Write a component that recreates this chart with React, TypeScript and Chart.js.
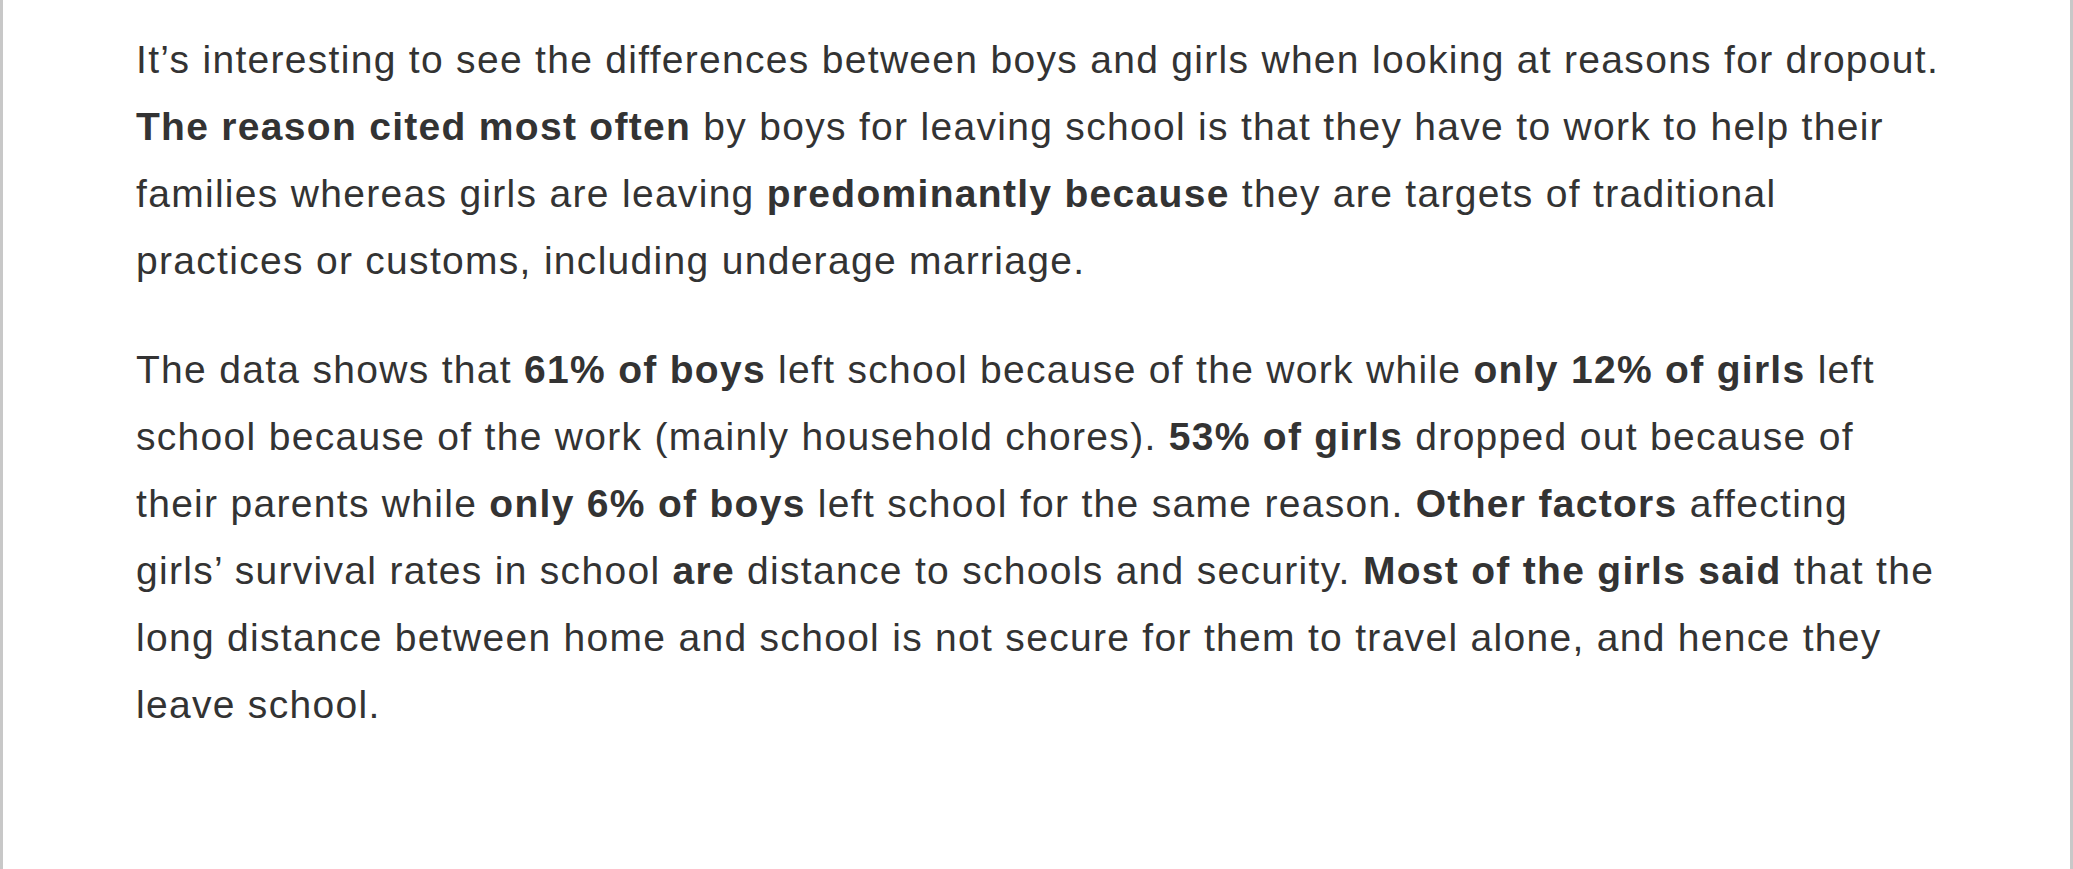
import React, { useEffect, useRef } from "react";
import { Chart, registerables } from "chart.js";
Chart.register(...registerables);

const categories: string[] = [];
const values: number[] = [];

type Seg = [string, boolean];
const para1: Seg[][] = [
  [["It’s interesting to see the differences between boys and girls when looking at reasons for dropout.", false]],
  [["The reason cited most often", true], [" by boys for leaving school is that they have to work to help their", false]],
  [["families whereas girls are leaving ", false], ["predominantly because", true], [" they are targets of traditional", false]],
  [["practices or customs, including underage marriage.", false]],
];
const para2: Seg[][] = [
  [["The data shows that ", false], ["61% of boys", true], [" left school because of the work while ", false], ["only 12% of girls", true], [" left", false]],
  [["school because of the work (mainly household chores). ", false], ["53% of girls", true], [" dropped out because of", false]],
  [["their parents while ", false], ["only 6% of boys", true], [" left school for the same reason. ", false], ["Other factors", true], [" affecting", false]],
  [["girls’ survival rates in school ", false], ["are", true], [" distance to schools and security. ", false], ["Most of the girls said", true], [" that the", false]],
  [["long distance between home and school is not secure for them to travel alone, and hence they", false]],
  [["leave school.", false]],
];

function Para({ lines, mt }: { lines: Seg[][]; mt: number }) {
  return (
    <div style={{ marginTop: mt }}>
      {lines.map((l, i) => (
        <div key={i} style={{ whiteSpace: "pre", height: 67, lineHeight: "67px" }}>
          {l.map(([t, b], j) => (
            <span key={j} style={{ fontWeight: b ? 700 : 400 }}>{t}</span>
          ))}
        </div>
      ))}
    </div>
  );
}

export default function App() {
  const ref = useRef<HTMLCanvasElement>(null);
  useEffect(() => {
    const c = new Chart(ref.current!, {
      type: "bar",
      data: { labels: categories, datasets: [{ data: values }] },
      options: {
        animation: false,
        responsive: false,
        plugins: { legend: { display: false }, tooltip: { enabled: false } },
        scales: { x: { display: false }, y: { display: false } },
      },
    });
    return () => c.destroy();
  }, []);
  return (
    <div
      style={{
        position: "fixed", left: 0, top: 0, width: 2073, height: 869, background: "#fff",
        boxSizing: "border-box", borderLeft: "3px solid #c8c8c8", borderRight: "3px solid #c8c8c8",
        fontFamily: "'Liberation Sans', Arial, sans-serif", fontSize: 39, color: "#333",
        letterSpacing: "1.3px",
      }}
    >
      <div style={{ position: "absolute", left: 133, top: 26 }}>
        <Para lines={para1} mt={0} />
        <Para lines={para2} mt={42} />
      </div>
      <canvas ref={ref} width={10} height={10} style={{ position: "absolute", left: 0, bottom: 0 }} />
    </div>
  );
}
